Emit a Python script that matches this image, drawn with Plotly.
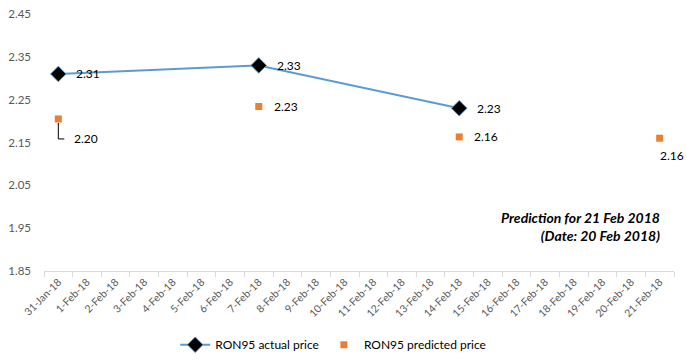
import plotly.graph_objects as go

dates = ["31-Jan-18"] + [f"{d}-Feb-18" for d in range(1, 22)]
actual_dates = ["31-Jan-18", "7-Feb-18", "14-Feb-18"]
actual_price = [2.31, 2.33, 2.23]
pred_dates = ["31-Jan-18", "7-Feb-18", "14-Feb-18", "21-Feb-18"]
pred_price = [2.205, 2.234, 2.163, 2.160]
pred_labels = ["2.20", "2.23", "2.16", "2.16"]
actual_labels = ["2.31", "2.33", "2.23"]
y_ticks = [1.85, 1.95, 2.05, 2.15, 2.25, 2.35, 2.45]

gray = "#595959"
fnt = "Lato, 'Open Sans', sans-serif"

fig = go.Figure()
fig.add_trace(go.Scatter(
    x=actual_dates, y=actual_price, mode="lines+markers", name="RON95 actual price",
    line=dict(color="#5b9bd5", width=2),
    marker=dict(symbol="diamond", size=12, color="black", line=dict(color="#5b9bd5", width=1)),
))
fig.add_trace(go.Scatter(
    x=pred_dates, y=pred_price, mode="markers", name="RON95 predicted price",
    marker=dict(symbol="square", size=7, color="#ed7d31", line=dict(width=0)),
))

ann = []
for d, v, t in zip(actual_dates, actual_price, actual_labels):
    ann.append(dict(x=d, y=v, text=t, showarrow=False, xanchor="left", yanchor="middle",
                    xshift=16, font=dict(family=fnt, size=12, color="black")))
for d, v, t in zip(pred_dates, pred_price, pred_labels):
    if d == "21-Feb-18":
        ann.append(dict(x=d, y=v, text=t, showarrow=False, xanchor="center", yanchor="middle",
                        xshift=12, yshift=-17, font=dict(family=fnt, size=12, color="black")))
    elif d == "31-Jan-18":
        ann.append(dict(x=d, y=v, text=t, showarrow=False, xanchor="left", yanchor="middle",
                        xshift=14, yshift=-20, font=dict(family=fnt, size=12, color="black")))
    else:
        ann.append(dict(x=d, y=v, text=t, showarrow=False, xanchor="left", yanchor="middle",
                        xshift=13, font=dict(family=fnt, size=12, color="black")))
ann.append(dict(xref="paper", yref="paper", x=0.981, y=0.098, xanchor="right", yanchor="bottom",
                text="<b><i>Prediction for 21 Feb 2018<br>(Date: 20 Feb 2018)</i></b>",
                align="right", showarrow=False,
                font=dict(family=fnt, size=14, color="black")))

fig.update_layout(
    width=687, height=361,
    margin=dict(l=44, r=13, t=14, b=90, autoexpand=False),
    paper_bgcolor="white", plot_bgcolor="white",
    annotations=ann,
    showlegend=True,
    legend=dict(orientation="h", xref="container", yref="container", x=0.485, y=0.045,
                xanchor="center", yanchor="middle", font=dict(family=fnt, size=12, color="black"),
                itemwidth=30, tracegroupgap=0),
    shapes=[dict(type="path", xref="x", yref="y", xsizemode="pixel", ysizemode="pixel",
                 xanchor=pred_dates[0], yanchor=pred_price[0],
                 path="M 0 -4 L 0 -20 L 6 -20", line=dict(color="black", width=1))],
)
fig.update_xaxes(type="category", categoryorder="array", categoryarray=dates,
                 tickvals=dates, range=[-0.5, len(dates) - 0.5], automargin=False,
                 tickangle=-45, tickson="boundaries", ticks="outside", ticklen=5,
                 tickcolor="#d9d9d9", showline=True, linecolor="#d9d9d9", linewidth=1,
                 showgrid=False, tickfont=dict(family=fnt, size=10.5, color=gray))
fig.update_yaxes(range=[1.85, 2.45], tickvals=y_ticks, ticktext=[f"{v:.2f}" for v in y_ticks],
                 showgrid=False, zeroline=False, showline=False, automargin=False,
                 tickfont=dict(family=fnt, size=11.5, color=gray), ticks="", ticklabelstandoff=12)
fig.write_html("out.html", config={"displayModeBar": False},
               post_script="document.body.style.margin='0';document.body.style.overflow='hidden';")
